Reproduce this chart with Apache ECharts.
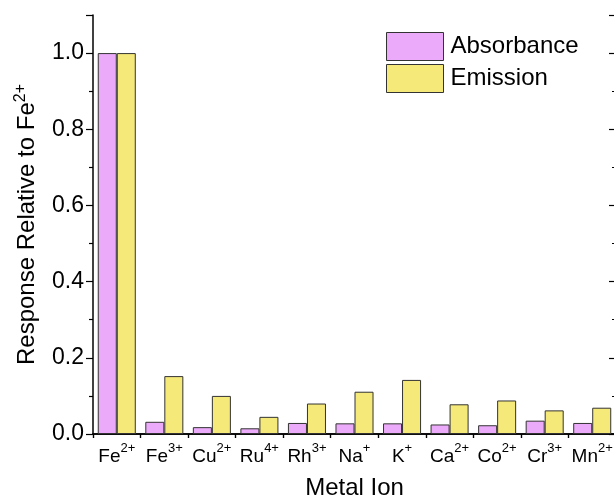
<!DOCTYPE html>
<html>
<head>
<meta charset="utf-8">
<script src="https://cdn.jsdelivr.net/npm/echarts@6/dist/echarts.min.js"></script>
<style>html,body{margin:0;padding:0;background:#fff}#c{width:614px;height:498px}</style>
</head>
<body>
<div id="c"></div>
<script>
var ionBases = ['Fe', 'Fe', 'Cu', 'Ru', 'Rh', 'Na', 'K', 'Ca', 'Co', 'Cr', 'Mn'];
var ionCharges = ['2+', '3+', '2+', '4+', '3+', '+', '+', '2+', '2+', '3+', '2+'];
var categories = ionBases.map(function (b, i) { return b + ionCharges[i]; });
var absorbance = [1.0, 0.032, 0.018, 0.015, 0.029, 0.028, 0.028, 0.025, 0.023, 0.035, 0.029];
var emission = [1.0, 0.152, 0.100, 0.045, 0.080, 0.111, 0.142, 0.078, 0.088, 0.062, 0.069];
var seriesNames = ['Absorbance', 'Emission'];
var yTicks = [0.0, 0.2, 0.4, 0.6, 0.8, 1.0];

var FONT = '"Liberation Sans", Arial, sans-serif';
var chart = echarts.init(document.getElementById('c'), null, {renderer: 'canvas'});
var lineStyle = {color: '#000', width: 1.5};
var option = {
  animation: false,
  backgroundColor: '#fff',
  textStyle: {fontFamily: FONT},
  grid: {left: 93, top: 15, bottom: 64, right: -2, containLabel: false, outerBoundsMode: 'none'},
  legend: {
    left: 386, top: 32, orient: 'vertical', padding: 0,
    itemWidth: 57, itemHeight: 28, itemGap: 3, icon: 'rect',
    itemStyle: {borderColor: '#333', borderWidth: 1},
    textStyle: {fontSize: 24, color: '#000', fontFamily: FONT, padding: [0, 0, 0, 2]},
    data: seriesNames
  },
  xAxis: [{
    type: 'category', data: categories, position: 'bottom',
    axisLine: {lineStyle: lineStyle},
    axisTick: {show: true, length: 4, inside: false, lineStyle: {color: '#000', width: 1.2}},
    axisLabel: {
      interval: 0, margin: 8, color: '#000',
      formatter: function (v, i) { return '{b|' + ionBases[i] + '}{s|' + ionCharges[i] + '}'; },
      rich: {
        b: {fontSize: 19, fontFamily: FONT, color: '#000', lineHeight: 24, verticalAlign: 'bottom'},
        s: {fontSize: 13, fontFamily: FONT, color: '#000', lineHeight: 24, verticalAlign: 'top'}
      }
    },
    name: 'Metal Ion', nameLocation: 'middle', nameGap: 42,
    nameTextStyle: {fontSize: 24, color: '#000', fontFamily: FONT}
  }, {
    type: 'category', data: categories, position: 'top',
    axisLine: {lineStyle: lineStyle},
    axisTick: {show: true, length: 4, inside: true, lineStyle: {color: '#000', width: 1.2}},
    axisLabel: {show: false}
  }],
  yAxis: [{
    type: 'value', min: 0, max: 1.1, interval: 0.2, position: 'left',
    axisLine: {show: true, lineStyle: lineStyle},
    axisTick: {show: true, length: 7, lineStyle: {color: '#000', width: 1.2}},
    minorTick: {show: true, splitNumber: 2, length: 4, lineStyle: {color: '#000', width: 1.2}},
    splitLine: {show: false},
    axisLabel: {
      showMaxLabel: false, margin: 9, fontSize: 23, color: '#000', fontFamily: FONT,
      formatter: function (v) {
        for (var k = 0; k < yTicks.length; k++) { if (Math.abs(yTicks[k] - v) < 1e-6) return yTicks[k].toFixed(1); }
        return '';
      }
    },
    name: 'Response Relative to Fe{s|2+}', nameLocation: 'middle', nameGap: 52, nameRotate: 90,
    nameTextStyle: {
      fontSize: 24, color: '#000', fontFamily: FONT,
      rich: {s: {fontSize: 16, fontFamily: FONT, color: '#000', verticalAlign: 'top', lineHeight: 28}}
    }
  }, {
    type: 'value', min: 0, max: 1.1, interval: 0.2, position: 'right',
    axisLine: {show: true, lineStyle: lineStyle},
    axisTick: {show: true, inside: true, length: 7, lineStyle: {color: '#000', width: 1.2}},
    minorTick: {show: true, splitNumber: 2, length: 4, lineStyle: {color: '#000', width: 1.2}},
    splitLine: {show: false},
    axisLabel: {show: false}
  }],
  series: [{
    name: seriesNames[0], type: 'bar', data: absorbance,
    barGap: '0%', barCategoryGap: '20%',
    itemStyle: {color: '#ECABFA', borderColor: '#333', borderWidth: 1}
  }, {
    name: seriesNames[1], type: 'bar', data: emission,
    barGap: '0%', barCategoryGap: '20%',
    itemStyle: {color: '#F5E97A', borderColor: '#333', borderWidth: 1}
  }]
};
chart.setOption(option);
</script>
</body>
</html>
